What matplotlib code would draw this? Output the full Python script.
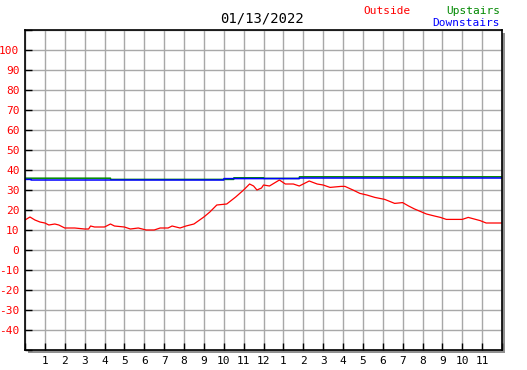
import matplotlib
matplotlib.use("Agg")
import matplotlib.pyplot as plt
from matplotlib.patches import Rectangle

title = "01/13/2022"
x_tick_labels = ["1","2","3","4","5","6","7","8","9","10","11","12",
                 "1","2","3","4","5","6","7","8","9","10","11"]
y_ticks = list(range(-40, 101, 10))

out_h = [0.0, 0.25, 0.5, 0.75, 1.0, 1.2, 1.5, 1.7, 2.0, 2.5, 3.0, 3.2, 3.3, 3.5, 4.0, 4.3, 4.5,
         5.0, 5.3, 5.7, 6.1, 6.5, 6.8, 7.2, 7.4, 7.8, 8.1, 8.5, 9.0, 9.3, 9.65, 10.15,
         10.6, 11.0, 11.3, 11.5, 11.67, 11.9, 12.0, 12.3, 12.8, 13.1, 13.5, 13.8, 14.3,
         14.7, 15.0, 15.35, 15.9, 16.1, 16.5, 16.85, 17.2, 17.6, 18.1, 18.6, 19.0, 19.3,
         19.6, 20.2, 20.6, 20.9, 21.2, 21.6, 22.0, 22.3, 22.6, 22.9, 23.2, 23.6, 24.0]
out_v = [15.0, 16.5, 15.0, 14.0, 13.5, 12.5, 13.0, 12.5, 11.0, 11.0, 10.5, 10.5, 12.0, 11.5, 11.5, 13.0, 12.0,
         11.5, 10.5, 11.0, 10.0, 10.0, 11.0, 11.0, 12.0, 11.0, 12.0, 13.0, 16.5, 19.0, 22.5, 23.0,
         26.5, 30.0, 33.0, 32.0, 30.0, 31.0, 32.5, 32.0, 35.0, 33.0, 33.0, 32.0, 34.5,
         33.0, 32.5, 31.3, 31.8, 31.8, 30.0, 28.3, 27.5, 26.3, 25.3, 23.3, 23.7, 22.0,
         20.5, 18.0, 17.0, 16.3, 15.3, 15.3, 15.3, 16.3, 15.5, 14.7, 13.5, 13.5, 13.5]

up_h = [0.0, 4.3, 4.31, 10.5, 10.51, 12.0, 12.01, 13.8, 13.81, 24.0]
up_v = [35.9, 35.9, 35.3, 35.3, 36.1, 36.1, 35.8, 35.8, 36.6, 36.6]

down_h = [0.0, 0.3, 0.31, 10.0, 10.01, 13.8, 13.81, 24.0]
down_v = [35.3, 35.3, 35.0, 35.0, 35.7, 35.7, 36.0, 36.0]

W, H = 527, 370
fig = plt.figure(figsize=(W/100, H/100), dpi=100)
fig.patch.set_facecolor("white")
L, R, T, B = 25, 502, 30, 350
ax = fig.add_axes([L/W, 1 - B/H, (R-L)/W, (B-T)/H])

# shadow
fig.patches.append(Rectangle(((L+3)/W, 1-(B+3)/H), (R-L)/W, (B-T)/H,
                             transform=fig.transFigure, facecolor="#909090",
                             edgecolor="none", zorder=0))
ax.set_zorder(1)
ax.set_facecolor("white")

ax.set_xlim(0, 24)
ax.set_ylim(-50, 110)
ax.set_xticks(range(0, 25))
ax.set_xticklabels([""] + x_tick_labels + [""], fontfamily="DejaVu Sans Mono", fontsize=8)
all_y = list(range(-50, 111, 10))
ax.set_yticks(all_y)
ax.set_yticklabels([str(v) if v in y_ticks else "" for v in all_y],
                   fontfamily="DejaVu Sans Mono", fontsize=8, color="red")
ax.grid(True, color="#a8a8a8", linewidth=1.0)
ax.set_axisbelow(True)
ax.tick_params(direction="in", length=5, width=1, pad=4)
for s in ax.spines.values():
    s.set_linewidth(1.2)
    s.set_color("black")

ax.plot(out_h, out_v, color="red", linewidth=0.9)
ax.plot(up_h, up_v, color="#008800", linewidth=1.1)
ax.plot(down_h, down_v, color="blue", linewidth=1.1)

fig.text(262/W, 1-19/H, title, ha="center", va="center",
         fontfamily="DejaVu Sans Mono", fontsize=10, color="black")
fig.text(411/W, 1-11/H, "Outside", ha="right", va="center",
         fontfamily="DejaVu Sans Mono", fontsize=8, color="red")
fig.text(500/W, 1-11/H, "Upstairs", ha="right", va="center",
         fontfamily="DejaVu Sans Mono", fontsize=8, color="#008800")
fig.text(500/W, 1-23/H, "Downstairs", ha="right", va="center",
         fontfamily="DejaVu Sans Mono", fontsize=8, color="blue")

fig.savefig("out.png", dpi=100)
